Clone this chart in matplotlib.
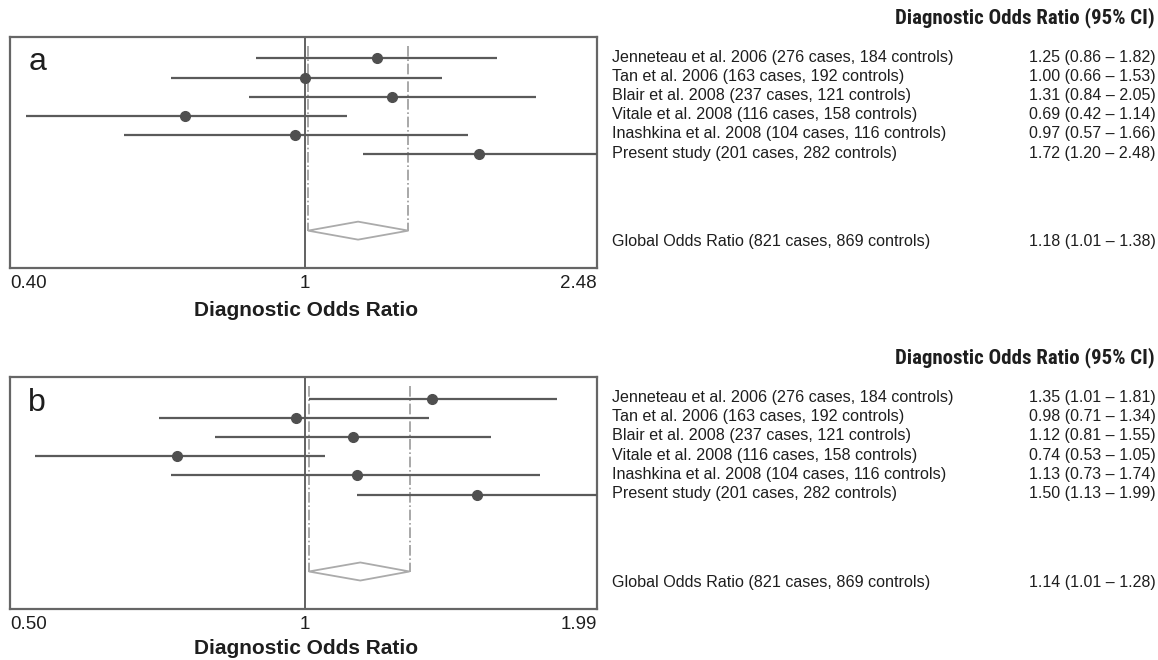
import matplotlib
matplotlib.use("Agg")
import matplotlib.pyplot as plt
import matplotlib.transforms as mtransforms
from matplotlib.patches import Polygon
from matplotlib.ticker import NullLocator, FixedLocator, FixedFormatter

plt.rcParams['font.family'] = ['Liberation Sans', 'DejaVu Sans']

# study labels shared by both panels
studies = [
    "Jenneteau et al. 2006 (276 cases, 184 controls)",
    "Tan et al. 2006 (163 cases, 192 controls)",
    "Blair et al. 2008 (237 cases, 121 controls)",
    "Vitale et al. 2008 (116 cases, 158 controls)",
    "Inashkina et al. 2008 (104 cases, 116 controls)",
    "Present study (201 cases, 282 controls)",
]
global_label = "Global Odds Ratio (821 cases, 869 controls)"

# panel a
a_or = [1.25, 1.00, 1.31, 0.69, 0.97, 1.72]
a_lo = [0.86, 0.66, 0.84, 0.42, 0.57, 1.20]
a_hi = [1.82, 1.53, 2.05, 1.14, 1.66, 2.48]
a_global = (1.18, 1.01, 1.38)
a_xlim = (0.40, 2.48)
a_ticks = ["0.40", "1", "2.48"]

# panel b
b_or = [1.35, 0.98, 1.12, 0.74, 1.13, 1.50]
b_lo = [1.01, 0.71, 0.81, 0.53, 0.73, 1.13]
b_hi = [1.81, 1.34, 1.55, 1.05, 1.74, 1.99]
b_global = (1.14, 1.01, 1.28)
b_xlim = (0.50, 1.99)
b_ticks = ["0.50", "1", "1.99"]

fig = plt.figure(figsize=(11.58, 6.6), dpi=100)

line_col = "#5a5a5a"
dot_col = "#4f4f4f"
dia_col = "#ababab"
dd_col = "#9a9a9a"
txt_col = "#1e1e1e"
head_family = ["Roboto Condensed", "Liberation Sans Narrow", "DejaVu Sans"]


def forest(ax, letter, ors, los, his, glob, xlim, ticklabels, header_y):
    rows = list(range(len(ors)))
    ax.set_xscale("log")
    ax.set_xlim(*xlim)
    ax.set_ylim(10.95, -1.12)
    ax.xaxis.set_minor_locator(NullLocator())
    ax.xaxis.set_major_locator(FixedLocator([xlim[0], 1.0, xlim[1]]))
    ax.xaxis.set_major_formatter(FixedFormatter(ticklabels))
    ax.tick_params(axis="x", length=0, pad=5, labelsize=13.5, labelcolor=txt_col)
    labs = ax.get_xticklabels()
    labs[0].set_ha("left")
    labs[-1].set_ha("right")
    ax.set_yticks([])
    for s in ax.spines.values():
        s.set_color("#666666")
        s.set_linewidth(1.6)

    ax.axvline(1.0, color="#555555", lw=1.3, zorder=2)

    g_or, g_lo, g_hi = glob
    y_dia = 9.0
    for xv in (g_lo, g_hi):
        ax.plot([xv, xv], [-0.65, y_dia], color=dd_col, lw=1.2, ls="-.", zorder=1)
    dia = Polygon([(g_lo, y_dia), (g_or, y_dia - 0.47), (g_hi, y_dia), (g_or, y_dia + 0.47)],
                  closed=True, fill=False, edgecolor=dia_col, lw=1.3, zorder=3)
    ax.add_patch(dia)

    ax.hlines(rows, los, his, color=line_col, lw=1.6, zorder=3)
    ax.plot(ors, rows, "o", color=dot_col, ms=7, zorder=4)

    ax.text(0.031, 0.855, letter, transform=ax.transAxes, fontsize=23, va="baseline",
            ha="left", color=txt_col)

    # right-hand table
    tr = mtransforms.blended_transform_factory(fig.transFigure, ax.transData)
    for i, name in enumerate(studies):
        ax.text(0.5285, i - 0.05, name, transform=tr, fontsize=11.6, va="center",
                ha="left", color=txt_col, clip_on=False)
        ax.text(0.889, i - 0.05, f"{ors[i]:.2f} ({los[i]:.2f} \u2013 {his[i]:.2f})", transform=tr,
                fontsize=11.5, va="center", ha="left", color=txt_col, clip_on=False)
    ax.text(0.5285, 9.55, global_label, transform=tr, fontsize=11.6, va="center",
            ha="left", color=txt_col, clip_on=False)
    ax.text(0.889, 9.55, f"{g_or:.2f} ({g_lo:.2f} \u2013 {g_hi:.2f})", transform=tr,
            fontsize=11.5, va="center", ha="left", color=txt_col, clip_on=False)
    fig.text(0.997, header_y, "Diagnostic Odds Ratio (95% CI)", ha="right", va="center",
             fontsize=15, fontweight="bold", fontstretch="condensed", family=head_family,
             color=txt_col)


ax_a = fig.add_axes([0.0086, 0.594, 0.507, 0.350])
ax_b = fig.add_axes([0.0086, 0.0773, 0.507, 0.3515])

forest(ax_a, "a", a_or, a_lo, a_hi, a_global, a_xlim, a_ticks, 0.974)
forest(ax_b, "b", b_or, b_lo, b_hi, b_global, b_xlim, b_ticks, 0.458)

fig.text(0.264, 1 - 310 / 660, "Diagnostic Odds Ratio", ha="center", va="center",
         fontsize=15, fontweight="bold", color=txt_col)
fig.text(0.264, 1 - 649 / 660, "Diagnostic Odds Ratio", ha="center", va="center",
         fontsize=15, fontweight="bold", color=txt_col)

fig.savefig("out.png", dpi=100)
